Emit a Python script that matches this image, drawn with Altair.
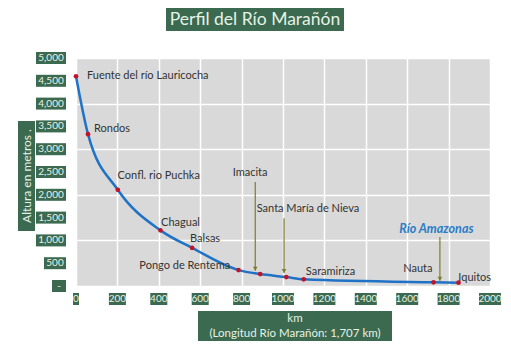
import altair as alt
import pandas as pd

# River profile points
places = ["Fuente del río Lauricocha", "Rondos", "Confl. rio Puchka", "Chagual", "Balsas",
          "Pongo de Rentema", "Imacita", "Santa María de Nieva", "Saramiriza", "Nauta", "Iquitos"]
km = [0, 58, 202, 408, 561, 785, 890, 1016, 1100, 1727, 1848]
alt_m = [4600, 3330, 2110, 1220, 836, 349, 262, 196, 146, 80, 72]

# Label anchor positions (data units)
lab_text = ["Fuente del río Lauricocha", "Rondos", "Confl. rio Puchka", "Imacita", "Chagual",
            "Balsas", "Santa María de Nieva", "Pongo de Rentema", "Saramiriza", "Nauta", "Iquitos"]
lab_km = [53, 87, 201, 757, 411, 551, 873, 306, 1110, 1581, 1847]
lab_m = [4602, 3442, 2407, 2488, 1385, 1022, 1678, 444, 306, 365, 182]

# Arrows
arr_km = [866, 1005, 1758]
arr_top = [2282, 1488, 1072]
arr_bot = [335, 285, 116]

# Ticks
x_ticks = [0, 200, 400, 600, 800, 1000, 1200, 1400, 1600, 1800, 2000]
y_ticks = [0, 500, 1000, 1500, 2000, 2500, 3000, 3500, 4000, 4500, 5000]
y_labels = ["-", "500", "1,000", "1,500", "2,000", "2,500", "3,000", "3,500", "4,000", "4,500", "5,000"]

GREEN = "#3b6a50"
LIGHT = "#e6f2e6"
FONT = "Lato"

xs = alt.Scale(domain=[0, 2000], nice=False, zero=False)
ys = alt.Scale(domain=[0, 5000], nice=False)
xaxis = alt.Axis(values=x_ticks, grid=True, gridColor="white", gridWidth=1.5,
                 labels=False, ticks=False, domain=False, title=None)
yaxis = alt.Axis(values=y_ticks, grid=True, gridColor="white", gridWidth=1.5,
                 labels=False, ticks=False, domain=False, title=None)
X = lambda f="km": alt.X(f"{f}:Q", scale=xs, axis=xaxis)
Y = lambda f="m": alt.Y(f"{f}:Q", scale=ys, axis=yaxis)

prof = pd.DataFrame({"place": places, "km": km, "m": alt_m})
labs = pd.DataFrame({"t": lab_text, "km": lab_km, "m": lab_m})
arrs = pd.DataFrame({"km": arr_km, "m": arr_top, "m2": arr_bot})
xt = pd.DataFrame({"km": x_ticks, "lab": [str(v) for v in x_ticks]})
yt = pd.DataFrame({"m": y_ticks, "lab": y_labels})
one = pd.DataFrame({"a": [0]})

line = alt.Chart(prof).mark_line(color="#1f72c6", strokeWidth=2.5, interpolate="monotone").encode(x=X(), y=Y())
pts = alt.Chart(prof).mark_point(filled=True, color="#c0142a", size=22, opacity=1).encode(x=X(), y=Y())

labels = alt.Chart(labs).mark_text(align="left", baseline="middle", font=FONT, fontSize=11,
                                   color="#333333").encode(x=X(), y=Y(), text="t:N")
amazon = alt.Chart(one).mark_text(align="left", baseline="middle", font=FONT, fontSize=12.5,
                                  fontWeight="bold", fontStyle="italic", color="#2a7cc7").encode(
    x=alt.datum(1562, scale=xs), y=alt.datum(1254, scale=ys), text=alt.value("Río Amazonas"))

arrow_lines = alt.Chart(arrs).mark_rule(color="#7d7d2e", strokeWidth=1.2).encode(
    x=X(), y=Y(), y2="m2:Q")
arrow_heads = alt.Chart(arrs).mark_point(shape="triangle-down", filled=True, color="#7d7d2e",
                                         size=22, opacity=1, yOffset=-2).encode(x=X(), y=Y("m2"))

layers = [line, arrow_lines, arrow_heads, pts, labels, amazon]

# Y tick label boxes
for n, w in [(1, 14), (3, 22), (5, 30)]:
    base = alt.Chart(yt).transform_filter(f"length(datum.lab) == {n}")
    layers.append(base.mark_rect(color=GREEN, yOffset=-6, y2Offset=6).encode(
        x=alt.value(-10 - w), x2=alt.value(-10), y=Y(), y2="m:Q"))
    layers.append(base.mark_text(color=LIGHT, font=FONT, fontSize=10, align="center",
                                 baseline="middle").encode(x=alt.value(-10 - w / 2), y=Y(), text="lab:N"))

# X tick label boxes
for n, w in [(1, 6), (3, 17), (4, 22)]:
    base = alt.Chart(xt).transform_filter(f"length(datum.lab) == {n}")
    layers.append(base.mark_rect(color=GREEN, xOffset=-w / 2, x2Offset=w / 2).encode(
        x=X(), x2="km:Q", y=alt.value(235), y2=alt.value(247)))
    layers.append(base.mark_text(color=LIGHT, font=FONT, fontSize=10, align="center",
                                 baseline="middle").encode(x=X(), y=alt.value(241), text="lab:N"))

# Title box
layers.append(alt.Chart(one).mark_rect(color=GREEN).encode(
    x=alt.value(90), x2=alt.value(268), y=alt.value(-50), y2=alt.value(-27)))
layers.append(alt.Chart(one).mark_text(color=LIGHT, font=FONT, fontSize=17.5, align="center",
                                       baseline="middle").encode(
    x=alt.value(179), y=alt.value(-38), text=alt.value("Perfil del Río Marañón")))

# Y axis title box
layers.append(alt.Chart(one).mark_rect(color=GREEN).encode(
    x=alt.value(-58), x2=alt.value(-41), y=alt.value(63), y2=alt.value(173)))
layers.append(alt.Chart(one).mark_text(color=LIGHT, font=FONT, fontSize=12, align="center",
                                       baseline="middle", angle=270).encode(
    x=alt.value(-49.5), y=alt.value(118), text=alt.value("Altura en metros .")))

# X axis title box
layers.append(alt.Chart(one).mark_rect(color=GREEN).encode(
    x=alt.value(122), x2=alt.value(316), y=alt.value(253), y2=alt.value(283)))
layers.append(alt.Chart(one).mark_text(color=LIGHT, font=FONT, fontSize=11.5, align="center",
                                       baseline="middle").encode(
    x=alt.value(219), y=alt.value(261), text=alt.value("km")))
layers.append(alt.Chart(one).mark_text(color=LIGHT, font=FONT, fontSize=11.5, align="center",
                                       baseline="middle").encode(
    x=alt.value(219), y=alt.value(276), text=alt.value("(Longitud Río Marañón: 1,707 km)")))

chart = alt.layer(*layers).properties(
    width=414, height=228,
    autosize=alt.AutoSizeParams(type="none"),
    padding={"left": 68, "top": 50, "right": 13, "bottom": 57},
    background="white",
).configure_view(fill="#d9d9d9", stroke=None)

chart.save("out.html", embed_options={"renderer": "svg", "actions": False})
